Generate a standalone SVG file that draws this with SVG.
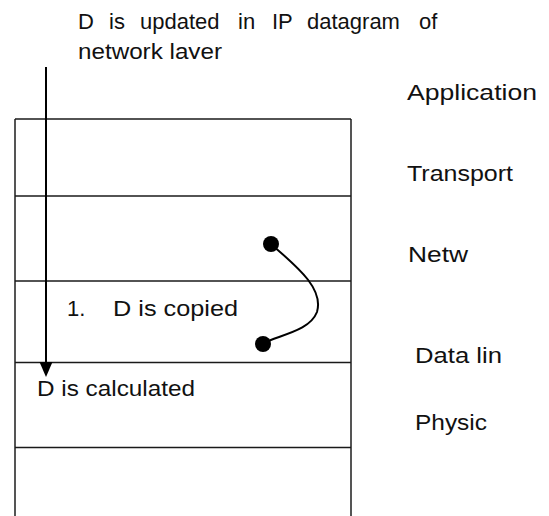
<svg xmlns="http://www.w3.org/2000/svg" width="549" height="516" viewBox="0 0 549 516">
<style>
text{font-family:"Liberation Sans",Arial,sans-serif;fill:#111;}
.t{font-size:22px;}
.l{font-size:22px;}
.side{stroke:#555;stroke-width:2;fill:none;}
.row{stroke:#1a1a1a;stroke-width:1.5;fill:none;}
.wire{stroke:#000;stroke-width:2;fill:none;}
</style>
<defs>
<clipPath id="clipTop"><rect x="0" y="0" width="549" height="59"/></clipPath>
</defs>
<rect width="549" height="516" fill="#fff"/>
<g id="header">
<text class="t" y="29"><tspan x="78">D</tspan><tspan x="109">is</tspan><tspan x="140">updated</tspan><tspan x="238">in</tspan><tspan x="272">IP</tspan><tspan x="307">datagram</tspan><tspan x="419">of</tspan></text>
<text class="t" x="78" y="59" clip-path="url(#clipTop)" textLength="144" lengthAdjust="spacingAndGlyphs">network layer</text>
</g>
<g id="stack">
<line class="side" x1="15" y1="119" x2="15" y2="516"/>
<line class="side" x1="351" y1="119" x2="351" y2="516"/>
<line class="row" x1="15" y1="119" x2="351" y2="119"/>
<line class="row" x1="15" y1="196" x2="351" y2="196"/>
<line class="row" x1="15" y1="281" x2="351" y2="281"/>
<line class="row" x1="15" y1="362.5" x2="351" y2="362.5"/>
<line class="row" x1="15" y1="447.5" x2="351" y2="447.5"/>
</g>
<g id="label-application"><text class="l" x="407" y="100" textLength="130" lengthAdjust="spacingAndGlyphs">Application</text></g>
<g id="label-transport"><text class="l" x="407" y="181" textLength="106" lengthAdjust="spacingAndGlyphs">Transport</text></g>
<g id="label-network"><text class="l" x="408" y="262" textLength="60" lengthAdjust="spacingAndGlyphs">Netw</text></g>
<g id="label-datalink"><text class="l" x="415" y="363" textLength="87" lengthAdjust="spacingAndGlyphs">Data lin</text></g>
<g id="label-physical"><text class="l" x="415" y="430" textLength="72" lengthAdjust="spacingAndGlyphs">Physic</text></g>
<g id="note-copied"><text class="l" y="316"><tspan x="67">1.</tspan><tspan x="113" textLength="125" lengthAdjust="spacingAndGlyphs">D is copied</tspan></text></g>
<g id="note-calculated"><text class="l" x="37" y="396" textLength="158" lengthAdjust="spacingAndGlyphs">D is calculated</text></g>
<g id="connectors">
<line class="wire" x1="46" y1="67" x2="46" y2="364"/>
<polygon points="39.5,362 52.5,362 46,377" fill="#000"/>
<path class="wire" d="M271,244 C296,266 324,288 317,312 C310,330 284,334 263,343"/>
<circle cx="271" cy="244" r="8" fill="#000"/>
<circle cx="263" cy="344" r="8" fill="#000"/>
</g>
</svg>
